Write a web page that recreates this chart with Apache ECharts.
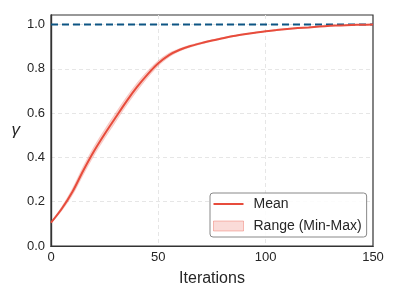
<!DOCTYPE html>
<html>
<head>
<meta charset="utf-8">
<script src="https://cdn.jsdelivr.net/npm/echarts@6/dist/echarts.min.js"></script>
<style>html,body{margin:0;padding:0;background:#fff}#c{width:400px;height:300px}</style>
</head>
<body>
<div id="c"></div>
<script>
var iterations = [0,5,10,15,20,25,30,35,40,45,50,55,60,65,70,75,80,85,90,95,100,105,110,115,120,125,130,135,140,145,150];
var meanVals = [0.105,0.168,0.245,0.340,0.428,0.506,0.579,0.651,0.717,0.775,0.825,0.862,0.886,0.903,0.916,0.928,0.938,0.948,0.956,0.963,0.970,0.975,0.980,0.984,0.987,0.991,0.994,0.996,0.998,0.999,1.000];
var minVals = [0.103,0.159,0.230,0.321,0.408,0.486,0.559,0.632,0.699,0.760,0.813,0.853,0.880,0.898,0.912,0.925,0.935,0.945,0.954,0.961,0.968,0.973,0.978,0.982,0.986,0.990,0.993,0.995,0.997,0.999,0.999];
var maxVals = [0.107,0.177,0.260,0.359,0.448,0.526,0.599,0.670,0.735,0.790,0.837,0.871,0.892,0.908,0.920,0.931,0.941,0.950,0.958,0.965,0.972,0.977,0.982,0.986,0.989,0.992,0.995,0.997,0.999,1.000,1.001];
var xTicks = [0,50,100,150];
var yTicks = [0.0,0.2,0.4,0.6,0.8,1.0];
var targetValue = 1.0;

var font = '"Liberation Sans", Arial, sans-serif';
var meanData = iterations.map(function(x,i){return [x, meanVals[i]];});
var bandData = iterations.map(function(x,i){return [x, minVals[i], maxVals[i]];});

function renderBand(params, api){
  if (params.dataIndex !== 0) return null;
  var upper = [], lower = [];
  for (var i=0;i<bandData.length;i++){
    upper.push(api.coord([bandData[i][0], bandData[i][2]]));
    lower.push(api.coord([bandData[i][0], bandData[i][1]]));
  }
  var pts = upper.concat(lower.reverse());
  return {
    type:'polygon',
    shape:{points:pts, smooth:0.3},
    style:{fill:'rgba(231,76,60,0.25)', stroke:'rgba(231,76,60,0.15)', lineWidth:1}
  };
}

var chart = echarts.init(document.getElementById('c'), null, {renderer:'canvas'});
chart.setOption({
  animation:false,
  backgroundColor:'#fff',
  grid:{left:51,right:27,top:15,bottom:54,show:true,borderColor:'#333',borderWidth:1.2,backgroundColor:'transparent'},
  xAxis:[{type:'value',min:0,max:150,interval:50,
    name:'Iterations',nameLocation:'middle',nameGap:25,
    nameTextStyle:{fontFamily:font,fontSize:16,color:'#262626'},
    axisLine:{show:true,lineStyle:{color:'#333',width:1.2}},
    axisTick:{show:false},
    axisLabel:{fontFamily:font,fontSize:13,color:'#262626',margin:5,
      formatter:function(v){return xTicks.indexOf(v)>=0?String(v):'';}},
    splitLine:{show:true,showMinLine:false,showMaxLine:false,lineStyle:{color:'#e6e6e6',type:[4,3],width:1}}
  },{type:'value',position:'top',min:0,max:150,
    axisLine:{show:true,lineStyle:{color:'#333',width:1.2}},axisTick:{show:false},axisLabel:{show:false},splitLine:{show:false}}],
  yAxis:[{type:'value',min:0,max:1.043,interval:0.2,
    name:'γ',nameLocation:'middle',nameGap:31,nameRotate:0,
    nameTextStyle:{fontFamily:font,fontSize:17,fontStyle:'italic',color:'#262626'},
    axisLine:{show:true,lineStyle:{color:'#333',width:1.2}},
    axisTick:{show:false},
    axisLabel:{fontFamily:font,fontSize:13,color:'#262626',margin:6,showMaxLabel:false,
      formatter:function(v){
        for(var i=0;i<yTicks.length;i++){ if(Math.abs(v-yTicks[i])<1e-6) return yTicks[i].toFixed(1); }
        return '';
      }},
    splitLine:{show:true,showMinLine:false,showMaxLine:false,lineStyle:{color:'#e6e6e6',type:[4,3],width:1}}
  },{type:'value',position:'right',min:0,max:1.043,
    axisLine:{show:true,lineStyle:{color:'#333',width:1.2}},axisTick:{show:false},axisLabel:{show:false},splitLine:{show:false}}],
  legend:{
    orient:'vertical',left:210,top:193,
    padding:[4,5,4,3],itemGap:8,itemWidth:30,itemHeight:10,
    backgroundColor:'rgba(255,255,255,0.85)',borderColor:'#888',borderWidth:1,borderRadius:3,
    textStyle:{fontFamily:font,fontSize:14,color:'#262626',padding:[0,0,0,5]},
    data:[
      {name:'Mean',icon:'path://M0,4 L30,4 L30,6 L0,6 Z',itemStyle:{color:'#e74c3c'}},
      {name:'Range (Min-Max)',icon:'rect',itemStyle:{color:'rgba(231,76,60,0.2)',borderColor:'rgba(231,76,60,0.35)',borderWidth:1}}
    ]
  },
  series:[
    {name:'Range (Min-Max)',type:'custom',data:bandData,renderItem:renderBand,
      encode:{x:0,y:[1,2]},itemStyle:{color:'rgba(231,76,60,0.2)'},silent:true,z:1},
    {name:'target',type:'line',data:[[0,targetValue],[150,targetValue]],symbol:'none',
      lineStyle:{color:'#0d5583',width:2,type:[7,4]},silent:true,z:2},
    {name:'Mean',type:'line',data:meanData,smooth:0.3,symbol:'none',
      lineStyle:{color:'#e74c3c',width:2},itemStyle:{color:'#e74c3c'},z:3}
  ]
});
</script>
</body>
</html>
